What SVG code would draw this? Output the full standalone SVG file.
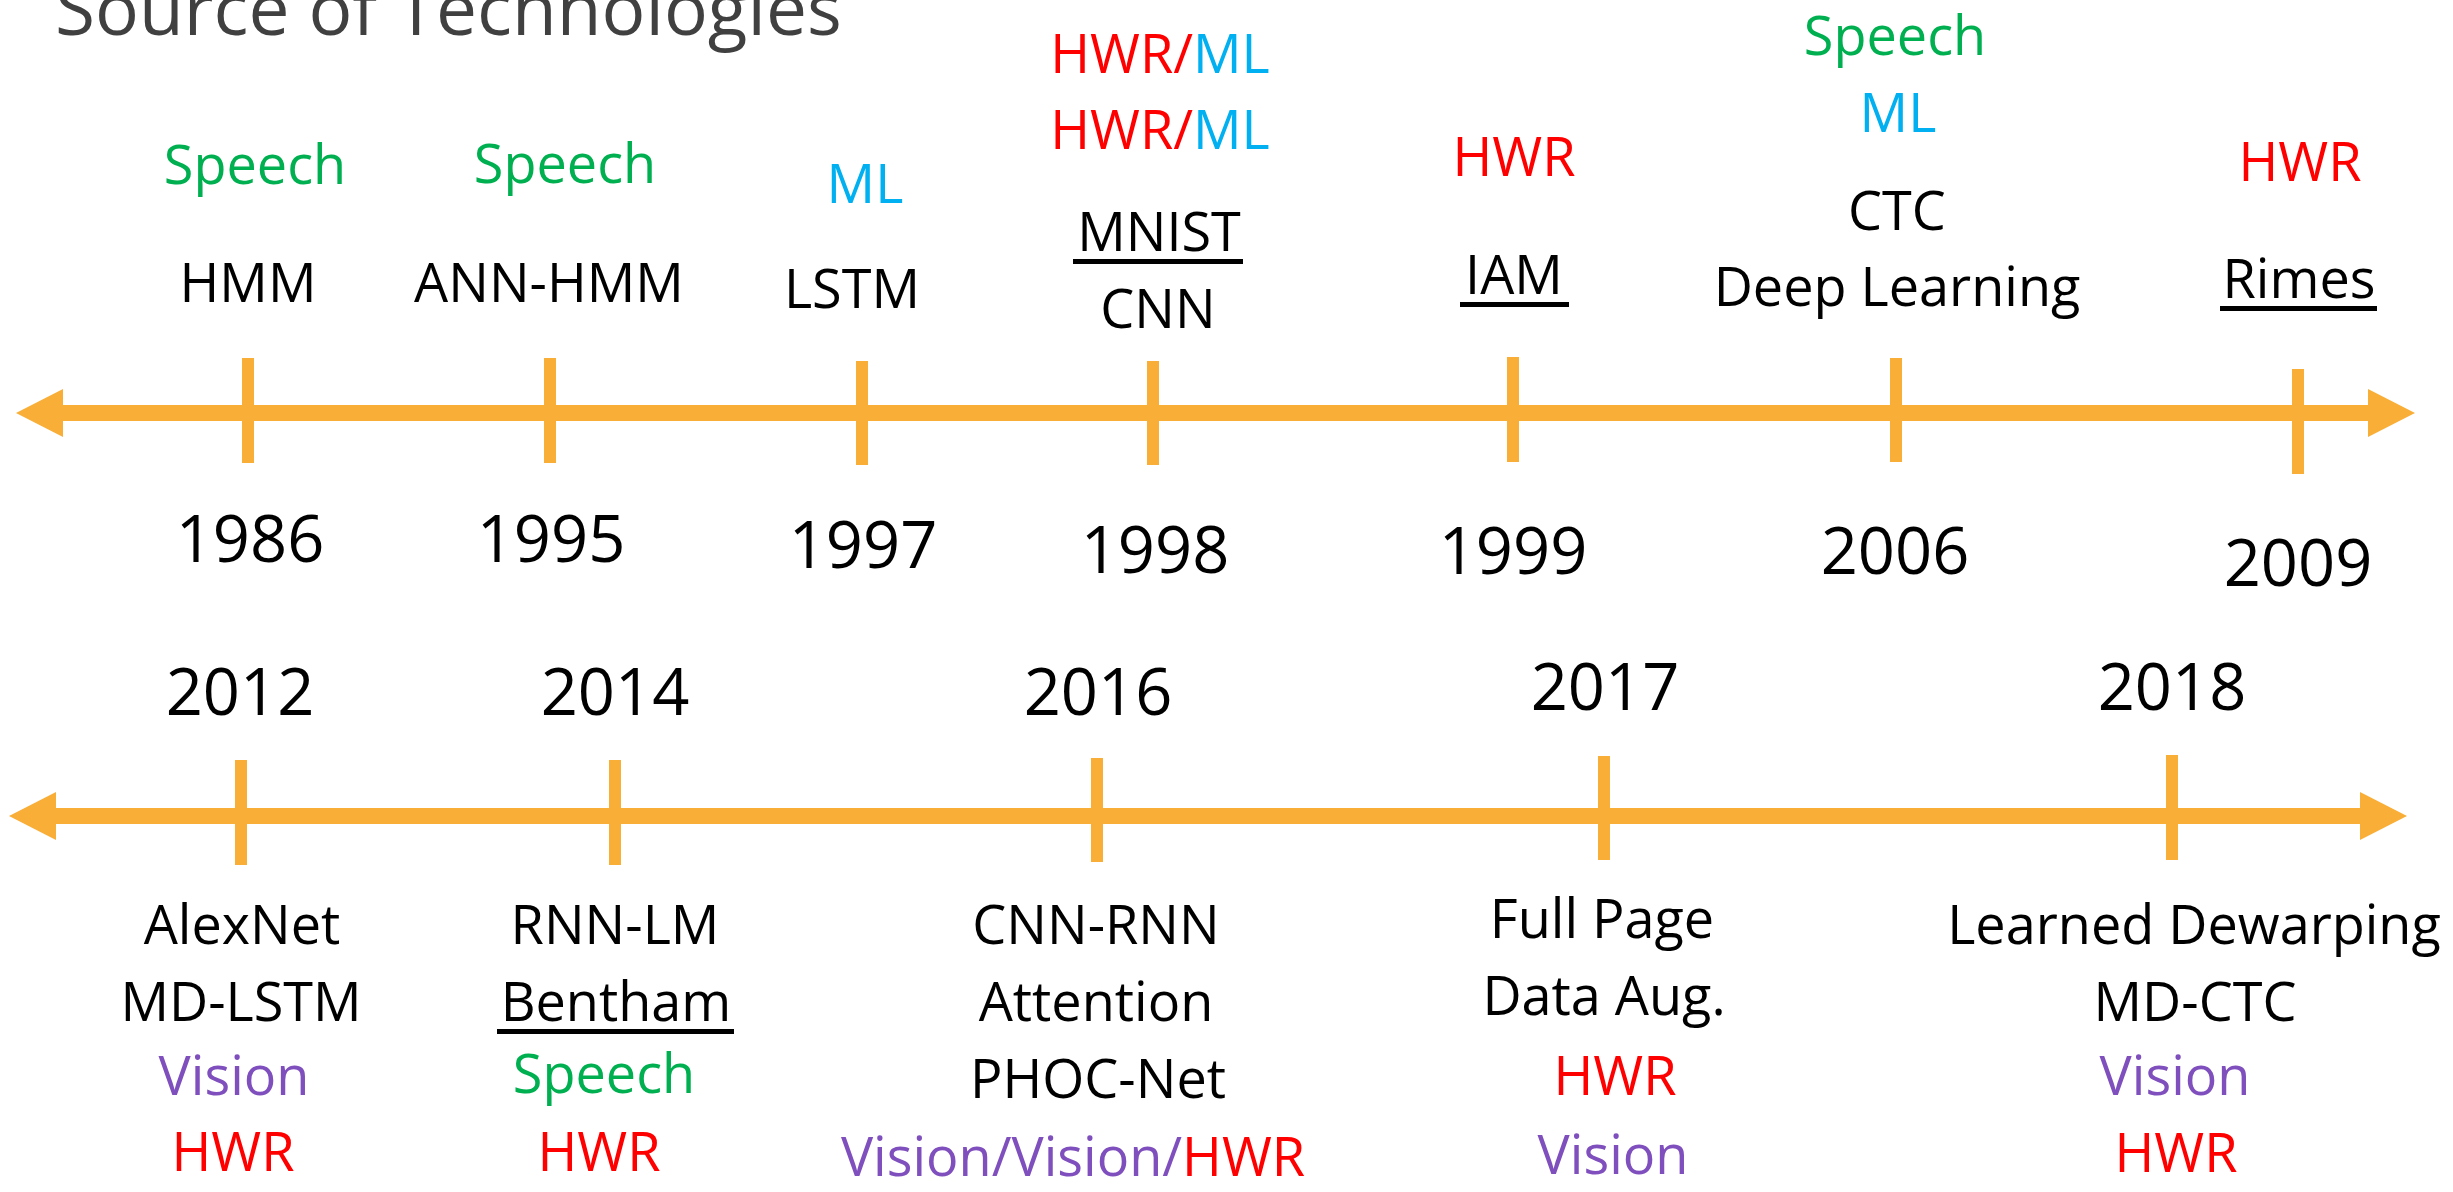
<svg xmlns="http://www.w3.org/2000/svg" width="2453" height="1192" viewBox="0 0 2453 1192">
<style>
text{font-family:"Open Sans","Noto Sans","Liberation Sans",sans-serif;text-anchor:middle;font-size:54px;fill:#000}
.yr{font-size:65px}
.title{font-size:73px;fill:#404040;text-anchor:start}
.sp{fill:#00B050}
.ml{fill:#00B0F0}
.hw{fill:#FF0000}
.vi{fill:#7F4FBE}
.tick{fill:#F9AE37}
.ul{fill:#000}
.axis{stroke:#F9AE37;stroke-width:16;fill:none}
</style>
<defs>
<marker id="ah" markerUnits="userSpaceOnUse" markerWidth="47" markerHeight="48" refX="0" refY="24" orient="auto-start-reverse" viewBox="0 0 47 48">
<path d="M0,0 L47,24 L0,48 Z" fill="#F9AE37"/>
</marker>
</defs>
<rect width="2453" height="1192" fill="#fff"/>
<text class="title" x="55" y="35">Source of Technologies</text>
<g id="connectors">
<line class="axis" x1="63" y1="413" x2="2368" y2="413" marker-start="url(#ah)" marker-end="url(#ah)"/>
<line class="axis" x1="56" y1="816" x2="2360" y2="816" marker-start="url(#ah)" marker-end="url(#ah)"/>
</g>
<g id="n1986">
<rect class="tick" x="242" y="358" width="12" height="105"/>
<text class="sp" x="255" y="184">Speech</text>
<text x="248" y="302">HMM</text>
<text class="yr" x="250" y="562">1986</text>
</g>
<g id="n1995">
<rect class="tick" x="544" y="358" width="12" height="105"/>
<text class="sp" x="565" y="183">Speech</text>
<text x="549" y="302">ANN-HMM</text>
<text class="yr" x="551" y="562">1995</text>
</g>
<g id="n1997">
<rect class="tick" x="856" y="361" width="12" height="104"/>
<text class="ml" x="865" y="203">ML</text>
<text x="852" y="308">LSTM</text>
<text class="yr" x="863" y="568">1997</text>
</g>
<g id="n1998">
<rect class="tick" x="1147" y="361" width="12" height="104"/>
<text x="1160" y="73"><tspan class="hw">HWR/</tspan><tspan class="ml">ML</tspan></text>
<text x="1160" y="149"><tspan class="hw">HWR/</tspan><tspan class="ml">ML</tspan></text>
<text x="1159" y="251">MNIST</text>
<rect class="ul" x="1073" y="259" width="170" height="5"/>
<text x="1158" y="328">CNN</text>
<text class="yr" x="1155" y="573">1998</text>
</g>
<g id="n1999">
<rect class="tick" x="1507" y="357" width="12" height="105"/>
<text class="hw" x="1514" y="176">HWR</text>
<text x="1514" y="294">IAM</text>
<rect class="ul" x="1460" y="302" width="109" height="5"/>
<text class="yr" x="1513" y="574">1999</text>
</g>
<g id="n2006">
<rect class="tick" x="1890" y="358" width="12" height="104"/>
<text class="sp" x="1895" y="55">Speech</text>
<text class="ml" x="1898" y="132">ML</text>
<text x="1897" y="230">CTC</text>
<text x="1897" y="306">Deep Learning</text>
<text class="yr" x="1895" y="574">2006</text>
</g>
<g id="n2009">
<rect class="tick" x="2292" y="369" width="12" height="105"/>
<text class="hw" x="2300" y="181">HWR</text>
<text x="2299" y="298">Rimes</text>
<rect class="ul" x="2220" y="306" width="157" height="5"/>
<text class="yr" x="2298" y="586">2009</text>
</g>
<g id="n2012">
<rect class="tick" x="235" y="760" width="12" height="105"/>
<text class="yr" x="240" y="715">2012</text>
<text x="242" y="944">AlexNet</text>
<text x="241" y="1021">MD-LSTM</text>
<text class="vi" x="234" y="1095">Vision</text>
<text class="hw" x="233" y="1171">HWR</text>
</g>
<g id="n2014">
<rect class="tick" x="609" y="760" width="12" height="105"/>
<text class="yr" x="615" y="715">2014</text>
<text x="615" y="944">RNN-LM</text>
<text x="616" y="1021">Bentham</text>
<rect class="ul" x="497" y="1029" width="237" height="5"/>
<text class="sp" x="604" y="1093">Speech</text>
<text class="hw" x="599" y="1171">HWR</text>
</g>
<g id="n2016">
<rect class="tick" x="1091" y="758" width="12" height="104"/>
<text class="yr" x="1098" y="715">2016</text>
<text x="1096" y="944">CNN-RNN</text>
<text x="1096" y="1021">Attention</text>
<text x="1098" y="1098">PHOC-Net</text>
<text x="1073" y="1176"><tspan class="vi">Vision/Vision/</tspan><tspan class="hw">HWR</tspan></text>
</g>
<g id="n2017">
<rect class="tick" x="1598" y="756" width="12" height="104"/>
<text class="yr" x="1605" y="710">2017</text>
<text x="1602" y="938">Full Page</text>
<text x="1604" y="1015">Data Aug.</text>
<text class="hw" x="1615" y="1095">HWR</text>
<text class="vi" x="1613" y="1174">Vision</text>
</g>
<g id="n2018">
<rect class="tick" x="2166" y="755" width="12" height="105"/>
<text class="yr" x="2172" y="710">2018</text>
<text x="2194" y="944">Learned Dewarping</text>
<text x="2195" y="1021">MD-CTC</text>
<text class="vi" x="2175" y="1095">Vision</text>
<text class="hw" x="2176" y="1172">HWR</text>
</g>
</svg>
